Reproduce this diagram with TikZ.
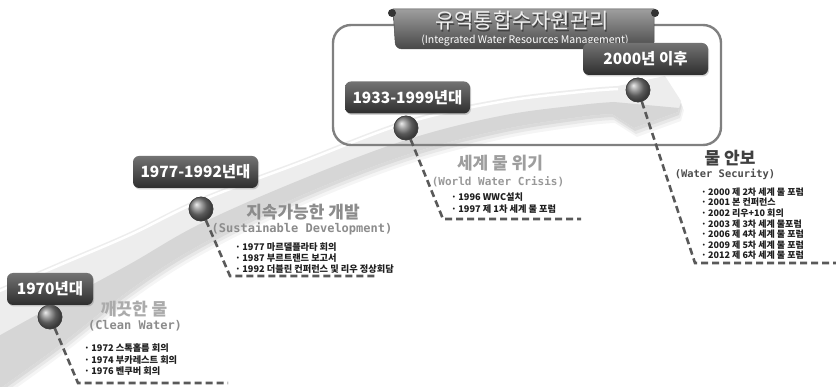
\documentclass[tikz,border=0pt]{standalone}
\usepackage{fontspec}
\setmainfont{Noto Sans CJK KR}
\newfontfamily\widemono{DejaVu Sans Mono}[BoldFont={DejaVu Sans Mono Bold}]
\usetikzlibrary{shadows,calc}

% curved timeline band, upper edge -> arrow head -> lower edge
\newcommand\bandshape{plot[smooth,tension=0.6] coordinates {(-5,290) (60,262) (130,232) (200,198) (300,160) (406,120) (500,99) (580,89) (618,86)}
  -- (665,76) -- (681,101) -- (678,112) -- (634,128)
  -- plot[smooth,tension=0.6] coordinates {(612,114) (580,117) (500,130) (406,155) (300,196) (200,245) (130,290) (60,345) (-5,392)} -- cycle}
\newcommand\bandlow{plot[smooth,tension=0.6] coordinates {(-5,338) (60,302) (130,264) (200,224) (300,180) (406,140) (500,116) (580,105) (614,102)}
  -- (679,108) -- (678,112) -- (634,128)
  -- plot[smooth,tension=0.6] coordinates {(612,114) (580,117) (500,130) (406,155) (300,196) (200,245) (130,290) (60,345) (-5,392)} -- cycle}

\begin{document}
\begin{tikzpicture}[x=1pt,y=-1pt,
  period/.style={rounded corners=6pt, minimum height=32pt, inner sep=0pt,
    top color=black!55, bottom color=black!82, text=white,
    font=\bfseries\fontsize{15.5}{16}\selectfont,
    drop shadow={shadow xshift=1pt, shadow yshift=-1.5pt, opacity=0.35}},
  pin/.style={circle, minimum size=24pt, inner sep=0pt, shading=ball,
    ball color=black!50, draw=black!75, line width=0.6pt},
  leader/.style={draw=black!65, line width=2.6pt, dash pattern=on 7pt off 4pt},
  heading/.style={font=\bfseries\fontsize{17}{19}\selectfont},
  subhead/.style={font=\widemono\bfseries\fontsize{12}{13}\selectfont},
  items/.style={text=black!88, align=left, anchor=north west, inner sep=0pt},
]
\useasboundingbox (0,0) rectangle (836,387);
\fill[white] (0,0) rectangle (836,387);

% soft shadow and body of the band
\begin{scope}
  \clip (0,0) rectangle (836,387);
  \fill[black, opacity=0.04, shift={(3,9)}] \bandshape;
  \fill[black, opacity=0.05, shift={(2,6)}] \bandshape;
  \fill[black, opacity=0.06, shift={(1,3)}] \bandshape;
  \fill[black!7] \bandshape;
  \fill[black!16] \bandlow;
  \draw[white, line width=2.5pt] plot[smooth,tension=0.6] coordinates {(-5,293) (60,265) (130,235) (200,201) (300,163) (406,123) (500,102) (580,92) (618,89)};
\end{scope}

% IWRM frame and banner
\draw[black!50, line width=2.4pt, rounded corners=18pt] (333,25) rectangle (721,145);
\path[top color=black!38, bottom color=black!72, draw=black!70, line width=0.5pt]
  (393,9) -- (654,9) -- (654,40) [rounded corners=7pt] -- (654,49) -- (395,49) [sharp corners] -- (395,40) -- cycle;
\fill[black!80] (392,13) circle (4);
\fill[black!80] (655,13) circle (4);
\node (titleshadow) at (523.2,22.2) {\fontsize{21}{23}\selectfont\textcolor{black!75}{유역통합수자원관리}};
\node (title) at (522,21) {\fontsize{21}{23}\selectfont\textcolor{black!6}{유역통합수자원관리}};
\node (subtitle) at (525,40.5) {\fontsize{10.5}{12}\selectfont\textcolor{white}{(Integrated Water Resources Management)}};

% pins on the band
\node[pin] (b1) at (50,317) {};
\node[pin] (b2) at (201,209) {};
\node[pin] (b3) at (406,128) {};
\node[pin] (b4) at (638,90) {};

% leader corners and ends
\coordinate (c1) at (78,383);  \coordinate (e1) at (228,383);
\coordinate (c2) at (230,276); \coordinate (e2) at (377,276);
\coordinate (c3) at (443,219); \coordinate (e3) at (581,219);
\coordinate (c4) at (695,263); \coordinate (e4) at (836,263);

\draw[leader] (b1) -- (c1) -- (e1);
\draw[leader] (b2) -- (c2) -- (e2);
\draw[leader] (b3) -- (c3) -- (e3);
\draw[leader] (b4) -- (c4) -- (e4);
\node[pin] at (b1) {};
\node[pin] at (b2) {};
\node[pin] at (b3) {};
\node[pin] at (b4) {};

% period labels
\node[period, minimum width=86pt] (p1) at (50,289) {1970년대};
\node[period, minimum width=125pt] (p2) at (195.5,172) {1977-1992년대};
\node[period, minimum width=125pt] (p3) at (407.5,97.5) {1933-1999년대};
\node[period, minimum width=125pt] (p4) at (645.5,59) {2000년 이후};

% stage headings
\node[heading, text=black!33] (h1) at (134,309) {깨끗한 물};
\node[subhead, text=black!45] (s1) at (135,326) {(Clean Water)};
\node[heading, text=black!45] (h2) at (303,212) {지속가능한 개발};
\node[subhead, text=black!45] (s2) at (302,229) {(Sustainable Development)};
\node[heading, text=black!38] (h3) at (500,163) {세계 물 위기};
\node[subhead, text=black!40, font=\widemono\bfseries\fontsize{11}{12}\selectfont] (s3) at (498,182) {(World Water Crisis)};
\node[heading, text=black!75] (h4) at (730,158) {물 안보};
\node[subhead, text=black!70, font=\widemono\bfseries\fontsize{10.4}{12}\selectfont] (s4) at (725,174) {(Water Security)};

% event lists
\node[items, font=\bfseries\fontsize{9.2}{11.5}\selectfont] (l1) at (84,343.5)
  {·\,1972 스톡홀름 회의\\·\,1974 부카레스트 회의\\·\,1976 벤쿠버 회의};
\node[items, font=\bfseries\fontsize{9.2}{11}\selectfont] (l2) at (235,242.5)
  {·\,1977 마르델플라타 회의\\·\,1987 부르트랜드 보고서\\·\,1992 더블린 컨퍼런스 및 리우 정상회담};
\node[items, font=\bfseries\fontsize{9.2}{12}\selectfont] (l3) at (451,192.5)
  {·\,1996 WWC설치\\·\,1997 제 1차 세계 물 포럼};
\node[items, font=\bfseries\fontsize{9}{10.6}\selectfont] (l4) at (701,187.5)
  {·\,2000 제 2차 세계 물 포럼\\·\,2001 본 컨퍼런스\\·\,2002 리우+10 회의\\·\,2003 제 3차 세계 물포럼\\·\,2006 제 4차 세계 물 포럼\\·\,2009 제 5차 세계 물 포럼\\·\,2012 제 6차 세계 물 포럼};
\end{tikzpicture}
\end{document}
